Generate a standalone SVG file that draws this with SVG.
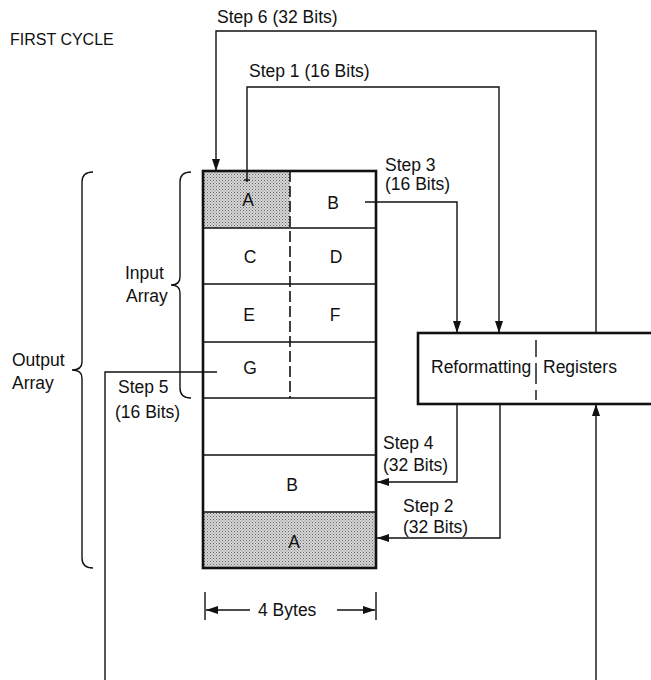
<svg xmlns="http://www.w3.org/2000/svg" width="651" height="680" viewBox="0 0 651 680">
<style>
text{font-family:"Liberation Sans",Arial,sans-serif;font-size:17.5px;fill:#111}
.c{text-anchor:middle}
.ln{fill:none;stroke:#111;stroke-width:1.4}
.thick{fill:none;stroke:#111;stroke-width:2.6}
.dash{fill:none;stroke:#111;stroke-width:1.6;stroke-dasharray:11 4}
</style>
<defs>
<pattern id="dots" width="3" height="3" patternUnits="userSpaceOnUse">
<rect width="3" height="3" fill="#d6d6d6"/>
<rect width="1" height="1" fill="#666"/>
<rect x="1.5" y="1.5" width="1" height="1" fill="#888"/>
</pattern>
<marker id="ah" viewBox="0 0 12 8" refX="12" refY="4" markerWidth="12" markerHeight="8" markerUnits="userSpaceOnUse" orient="auto">
<path d="M0,0 L12,4 L0,8 Z" fill="#111"/>
</marker>
</defs>
<rect width="651" height="680" fill="#fff"/>

<text id="title" x="10" y="45" style="font-size:16px">FIRST CYCLE</text>

<g id="array">
<rect x="203" y="171" width="87" height="57" fill="url(#dots)"/>
<rect x="203" y="512" width="173" height="56" fill="url(#dots)"/>
<path class="ln" d="M203,228 H376 M203,284 H376 M203,342 H376 M203,398 H376 M203,455 H376 M203,512 H376"/>
<path class="dash" d="M290,171 V398"/>
<rect class="thick" x="203" y="171" width="173" height="397"/>
<text class="c" x="248" y="206">A</text>
<text class="c" x="333" y="209">B</text>
<text class="c" x="250" y="263">C</text>
<text class="c" x="336" y="263">D</text>
<text class="c" x="249" y="321">E</text>
<text class="c" x="335" y="321">F</text>
<text class="c" x="250" y="374">G</text>
<text class="c" x="292" y="491">B</text>
<text class="c" x="294" y="548">A</text>
</g>

<g id="registers">
<rect class="thick" x="418" y="333" width="250" height="71" fill="#fff"/>
<path class="ln" stroke-width="1.6" d="M536,340 V357 M536,363 V384 M536,390 V400"/>
<text x="431" y="373">Reformatting</text>
<text x="543" y="373">Registers</text>
</g>

<g id="braces">
<path class="ln" d="M93,172 Q82,172 82,182 V362 Q82,370 72,370 Q82,370 82,378 V558 Q82,568 93,568"/>
<path class="ln" d="M191,172 Q180,172 180,182 V277 Q180,285 171,285 Q180,285 180,293 V388 Q180,398 191,398"/>
<text x="125" y="279">Input</text>
<text x="126" y="302">Array</text>
<text x="12" y="366">Output</text>
<text x="12" y="389">Array</text>
</g>

<g id="dimension">
<path class="ln" d="M205,592 V620 M376,592 V620"/>
<path class="ln" d="M250,610 H206" marker-end="url(#ah)"/>
<path class="ln" d="M337,610 H375" marker-end="url(#ah)"/>
<text x="258" y="616">4 Bytes</text>
</g>

<g id="connectors">
<path class="ln" d="M596,333 V31 H216 V171" marker-end="url(#ah)"/>
<path class="ln" d="M247,182 V87 H499 V333" marker-end="url(#ah)"/>
<path class="ln" d="M244,180 H250"/>
<path class="ln" d="M365,202 H457 V333" marker-end="url(#ah)"/>
<path class="ln" d="M457,404 V482 H377" marker-end="url(#ah)"/>
<path class="ln" d="M500,404 V538 H377" marker-end="url(#ah)"/>
<path class="ln" d="M217,372 H105 V680"/>
<path class="ln" d="M596,680 V404" marker-end="url(#ah)"/>
</g>

<g id="labels">
<text x="217" y="23">Step 6 (32 Bits)</text>
<text x="249" y="77">Step 1 (16 Bits)</text>
<text x="385" y="171">Step 3</text>
<text x="385" y="190">(16 Bits)</text>
<text x="118" y="393">Step 5</text>
<text x="115" y="418">(16 Bits)</text>
<text x="383" y="449">Step 4</text>
<text x="383" y="471">(32 Bits)</text>
<text x="403" y="512">Step 2</text>
<text x="403" y="533">(32 Bits)</text>
</g>
</svg>
